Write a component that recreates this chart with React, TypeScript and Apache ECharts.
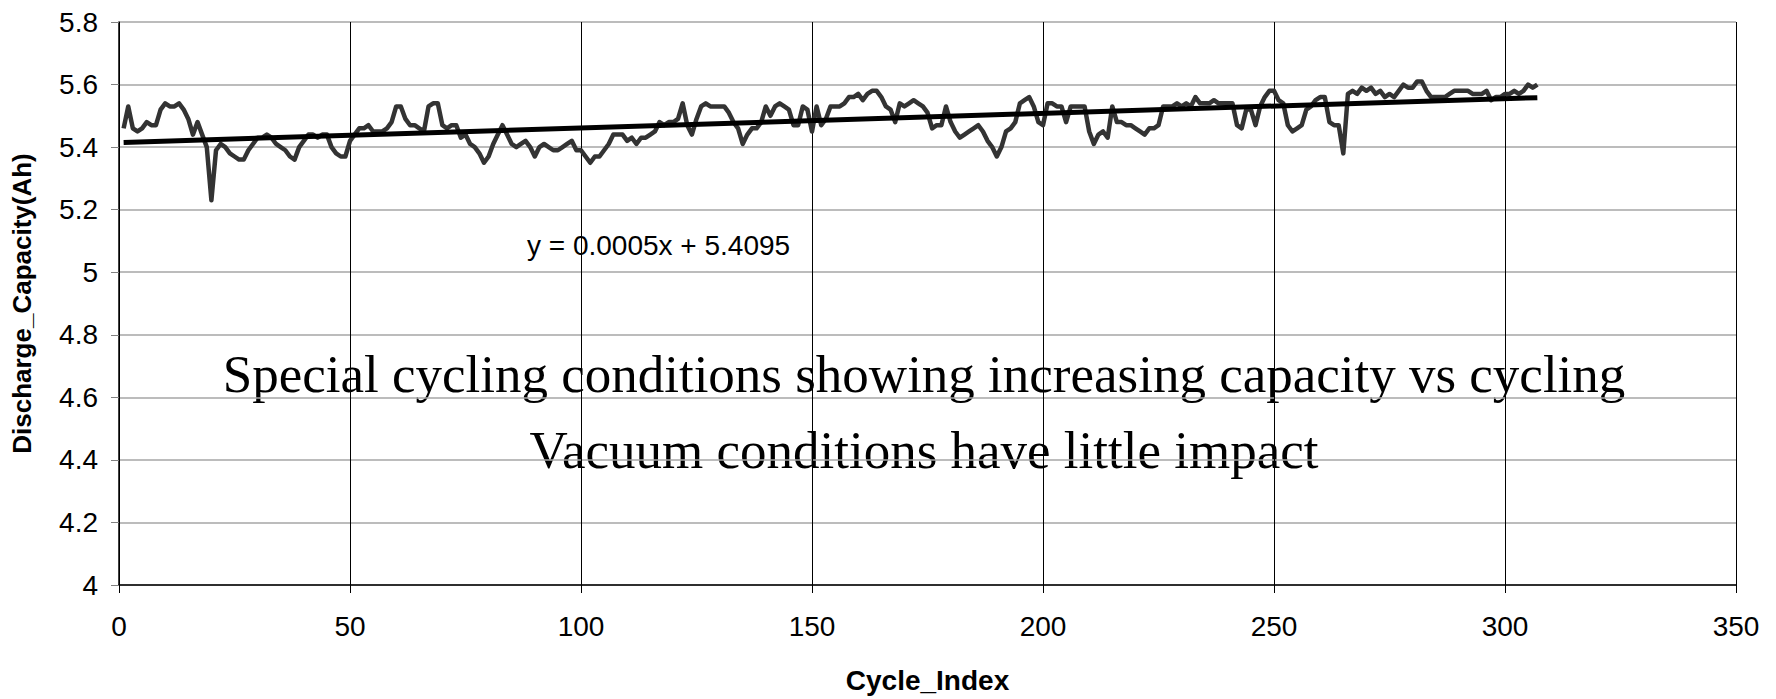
import React, { useEffect, useRef } from "react";
import * as echarts from "echarts";

const capacity: number[] = [
  5.46, 5.53, 5.46, 5.45, 5.46, 5.48, 5.47, 5.47, 5.52, 5.54,
  5.53, 5.53, 5.54, 5.52, 5.49, 5.44, 5.48, 5.44, 5.40, 5.23,
  5.39, 5.41, 5.40, 5.38, 5.37, 5.36, 5.36, 5.39, 5.41, 5.43,
  5.43, 5.44, 5.43, 5.41, 5.40, 5.39, 5.37, 5.36, 5.40, 5.42,
  5.44, 5.44, 5.43, 5.44, 5.44, 5.40, 5.38, 5.37, 5.37, 5.42,
  5.44, 5.46, 5.46, 5.47, 5.45, 5.45, 5.45, 5.46, 5.48, 5.53,
  5.53, 5.49, 5.47, 5.47, 5.46, 5.45, 5.53, 5.54, 5.54, 5.47,
  5.46, 5.47, 5.47, 5.43, 5.44, 5.41, 5.40, 5.38, 5.35, 5.37,
  5.41, 5.44, 5.47, 5.44, 5.41, 5.40, 5.41, 5.42, 5.40, 5.37,
  5.40, 5.41, 5.40, 5.39, 5.39, 5.40, 5.41, 5.42, 5.39, 5.39,
  5.37, 5.35, 5.37, 5.37, 5.39, 5.41, 5.44, 5.44, 5.44, 5.42,
  5.43, 5.41, 5.43, 5.43, 5.44, 5.45, 5.48, 5.47, 5.48, 5.48,
  5.49, 5.54, 5.47, 5.44, 5.49, 5.53, 5.54, 5.53, 5.53, 5.53,
  5.53, 5.51, 5.48, 5.46, 5.41, 5.44, 5.46, 5.46, 5.48, 5.53,
  5.50, 5.53, 5.54, 5.53, 5.52, 5.47, 5.47, 5.53, 5.52, 5.45,
  5.53, 5.47, 5.49, 5.53, 5.53, 5.53, 5.54, 5.56, 5.56, 5.57,
  5.55, 5.57, 5.58, 5.58, 5.56, 5.53, 5.52, 5.48, 5.54, 5.53,
  5.54, 5.55, 5.54, 5.53, 5.51, 5.46, 5.47, 5.47, 5.53, 5.48,
  5.45, 5.43, 5.44, 5.45, 5.46, 5.47, 5.45, 5.42, 5.40, 5.37,
  5.40, 5.45, 5.46, 5.48, 5.54, 5.55, 5.56, 5.53, 5.48, 5.47,
  5.54, 5.54, 5.53, 5.53, 5.48, 5.53, 5.53, 5.53, 5.53, 5.45,
  5.41, 5.44, 5.45, 5.43, 5.53, 5.48, 5.48, 5.47, 5.47, 5.46,
  5.45, 5.44, 5.46, 5.46, 5.47, 5.53, 5.53, 5.53, 5.54, 5.53,
  5.54, 5.53, 5.56, 5.54, 5.54, 5.54, 5.55, 5.54, 5.54, 5.54,
  5.54, 5.47, 5.46, 5.52, 5.52, 5.47, 5.53, 5.56, 5.58, 5.58,
  5.55, 5.54, 5.47, 5.45, 5.46, 5.47, 5.52, 5.53, 5.55, 5.56,
  5.56, 5.48, 5.47, 5.47, 5.38, 5.57, 5.58, 5.57, 5.59, 5.58,
  5.59, 5.57, 5.58, 5.56, 5.57, 5.56, 5.58, 5.60, 5.59, 5.59,
  5.61, 5.61, 5.58, 5.56, 5.56, 5.56, 5.56, 5.57, 5.58, 5.58,
  5.58, 5.58, 5.57, 5.57, 5.57, 5.58, 5.55, 5.56, 5.56, 5.57,
  5.57, 5.58, 5.57, 5.58, 5.60, 5.59, 5.60,
];

const firstCycle = 1;
const trendX: number[] = [1, 307];
const trendY: number[] = [5.415, 5.558];

const xAxisName = "Cycle_Index";
const yAxisName = "Discharge_Capacity(Ah)";
const equationText = "y = 0.0005x + 5.4095";
const noteLines: string[] = [
  "Special cycling conditions showing increasing capacity vs cycling",
  "Vacuum conditions have little impact",
];

export default function App() {
  const ref = useRef<HTMLDivElement>(null);
  useEffect(() => {
    if (!ref.current) return;
    const chart = echarts.init(ref.current, null, { renderer: "svg" });
    const sans = "'Liberation Sans', Arial, sans-serif";
    const serif = "'Liberation Serif', 'Times New Roman', serif";
    chart.setOption({
      animation: false,
      backgroundColor: "#ffffff",
      grid: { left: 119, right: 40, top: 22, bottom: 110, containLabel: false },
      xAxis: {
        type: "value",
        min: 0,
        max: 350,
        interval: 50,
        name: xAxisName,
        nameLocation: "middle",
        nameGap: 81,
        nameTextStyle: { fontFamily: sans, fontSize: 28, fontWeight: "bold", color: "#000" },
        axisLine: { show: true, onZero: false, lineStyle: { color: "#000", width: 1.5 } },
        axisTick: { show: true, inside: false, length: 8, lineStyle: { color: "#000", width: 1 } },
        axisLabel: { margin: 27, fontFamily: sans, fontSize: 28, color: "#000" },
        splitLine: { show: true, lineStyle: { color: "#000", width: 1 } },
      },
      yAxis: {
        type: "value",
        min: 4,
        max: 5.8,
        interval: 0.2,
        name: yAxisName,
        nameLocation: "middle",
        nameGap: 84,
        nameRotate: 90,
        nameTextStyle: { fontFamily: sans, fontSize: 26, fontWeight: "bold", color: "#000" },
        axisLine: { show: true, onZero: false, lineStyle: { color: "#000", width: 1.5 } },
        axisTick: { show: true, inside: false, length: 8, lineStyle: { color: "#808080", width: 1 } },
        axisLabel: { margin: 21, fontFamily: sans, fontSize: 28, color: "#000" },
        splitLine: { show: true, lineStyle: { color: "#a6a6a6", width: 1.5 } },
      },
      graphic: [
        {
          type: "text",
          left: 527,
          top: 231,
          style: { text: equationText, fontFamily: sans, fontSize: 28, fill: "#000" },
        },
        {
          type: "text",
          x: 924,
          y: 374,
          style: {
            text: noteLines[0],
            fontFamily: serif,
            fontSize: 53,
            fill: "#000",
            align: "center",
            verticalAlign: "middle",
          },
        },
        {
          type: "text",
          x: 924,
          y: 450,
          style: {
            text: noteLines[1],
            fontFamily: serif,
            fontSize: 53,
            fill: "#000",
            align: "center",
            verticalAlign: "middle",
          },
        },
      ],
      series: [
        {
          name: "Discharge capacity",
          type: "line",
          data: capacity.map((v, i) => [firstCycle + i, v]),
          showSymbol: false,
          symbol: "none",
          lineStyle: { color: "#333333", width: 4.5, join: "round" },
          z: 2,
        },
        {
          name: "Linear trend",
          type: "line",
          data: trendX.map((x, i) => [x, trendY[i]]),
          showSymbol: false,
          symbol: "none",
          lineStyle: { color: "#000000", width: 5 },
          z: 3,
        },
      ],
    });
    return () => chart.dispose();
  }, []);
  return (
    <div
      ref={ref}
      style={{ position: "absolute", left: 0, top: 0, width: 1776, height: 699, background: "#fff" }}
    />
  );
}
